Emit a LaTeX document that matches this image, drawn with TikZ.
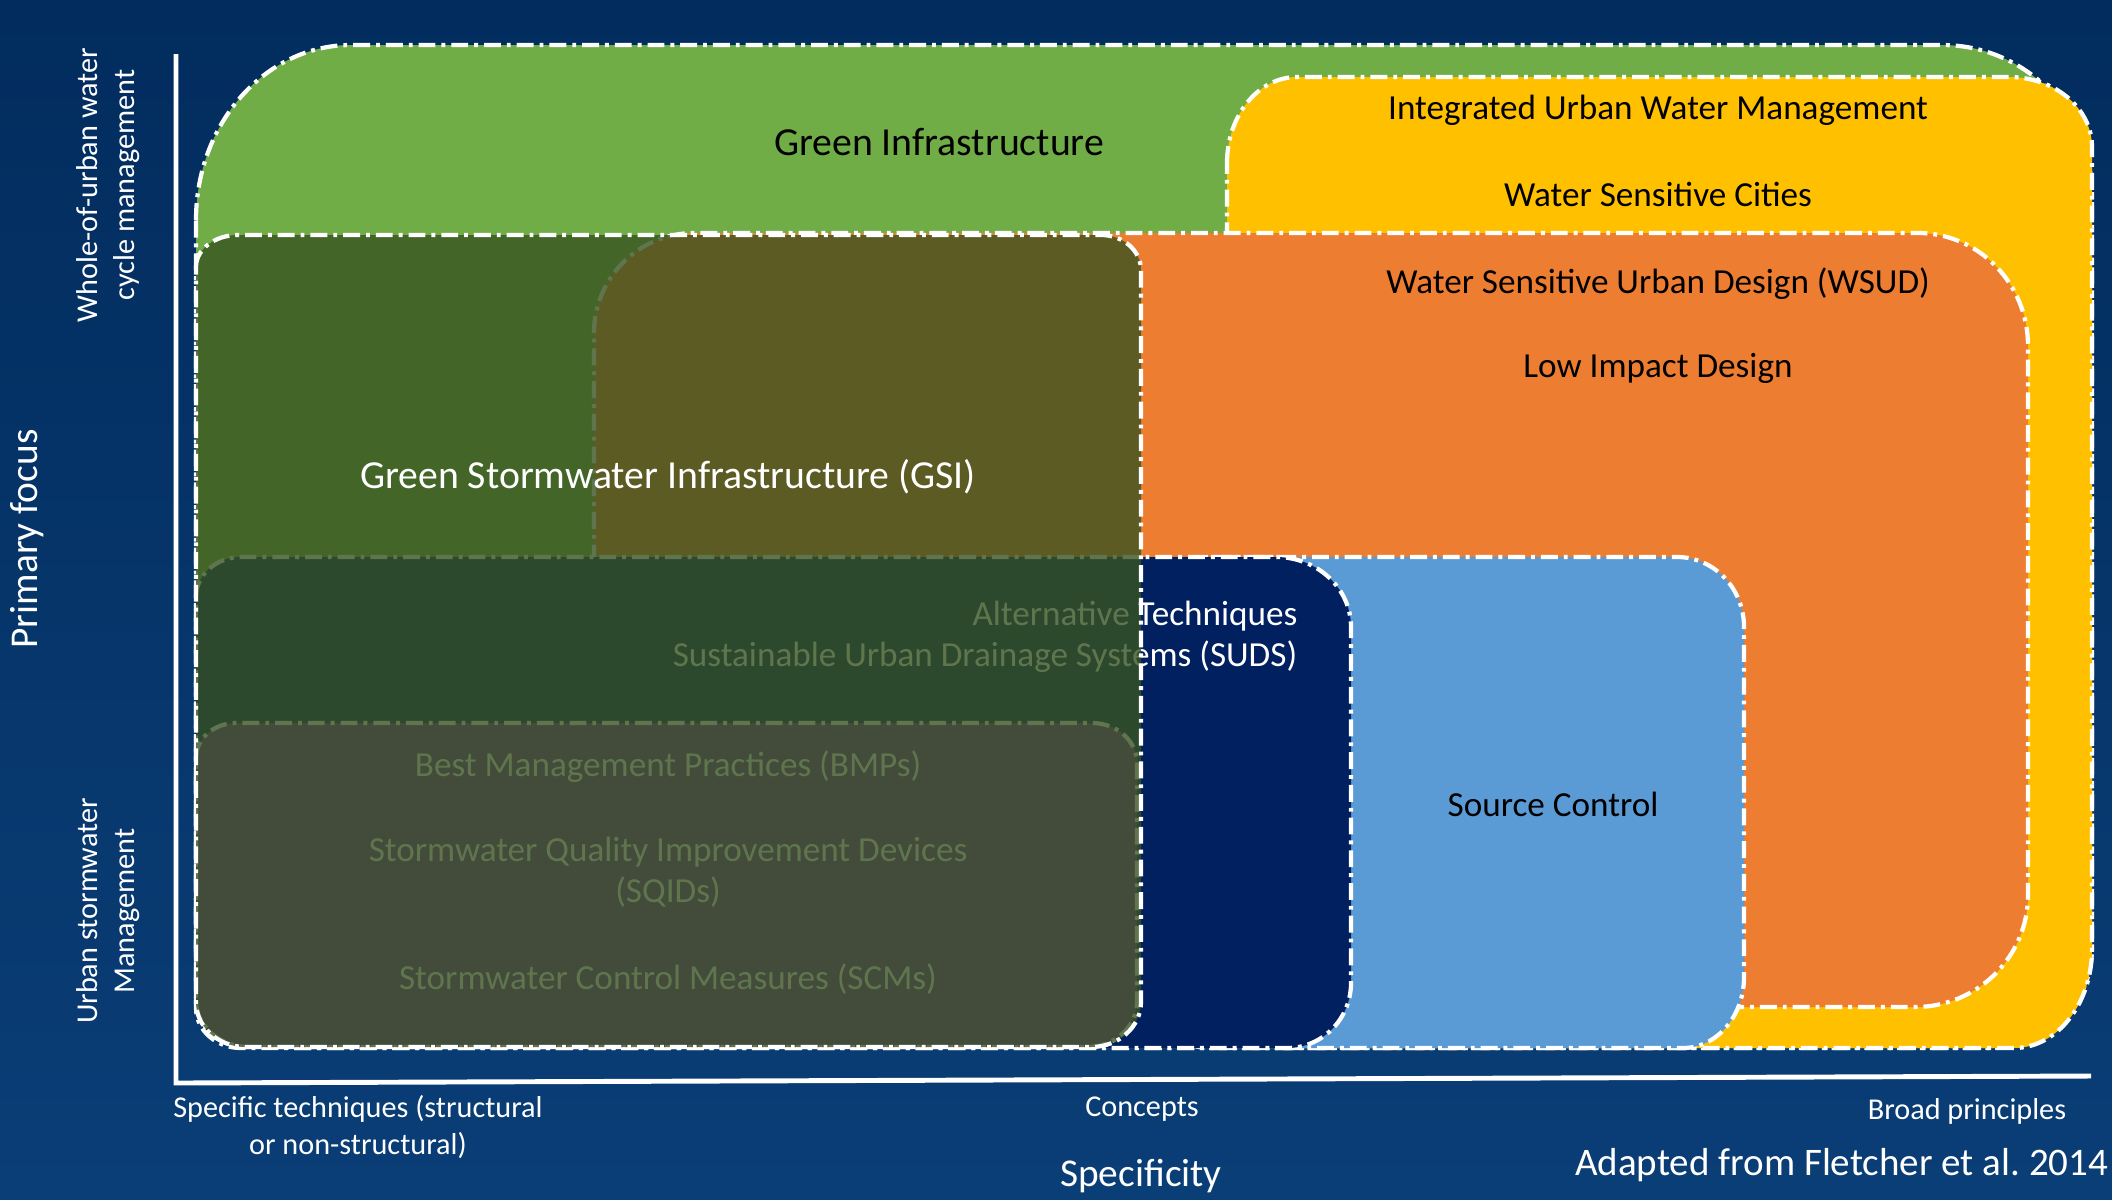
\documentclass[tikz,border=0pt]{standalone}
\usepackage{fontspec}
\setmainfont{Carlito}

\definecolor{bgtop}{RGB}{2,44,94}
\definecolor{bgbottom}{RGB}{10,62,118}
\definecolor{gigreen}{RGB}{112,173,71}
\definecolor{iuwmyellow}{RGB}{255,192,0}
\definecolor{wsudorange}{RGB}{237,125,49}
\definecolor{sudsnavy}{RGB}{0,32,96}
\definecolor{scblue}{RGB}{91,155,213}
\definecolor{bmppurple}{RGB}{112,48,160}
\definecolor{gsishade}{RGB}{56,83,33}

\tikzset{
	zone/.style={draw=white, line width=1.2pt, dash pattern=on 4.8pt off 1.7pt on 1.1pt off 1.7pt},
	lbl/.style={font=\fontsize{10}{11.8}\selectfont, align=center},
	biglbl/.style={font=\fontsize{11.3}{13}\selectfont},
	axislbl/.style={text=white, font=\fontsize{8.6}{10.6}\selectfont, align=center},
	axistitle/.style={text=white, font=\fontsize{11.2}{13}\selectfont},
}

\begin{document}
\begin{tikzpicture}[x=0.01cm, y=-0.01cm]
		\shade[top color=bgtop, bottom color=bgbottom] (0,0) rectangle (2112,1199);
		\useasboundingbox (0,0) rectangle (2112,1199);
		
		% axes
		\coordinate (ytop) at (176,54);
		\coordinate (origin) at (176,1083);
		\coordinate (xend) at (2091,1076);
		\draw[white, line width=1.4pt] (ytop) -- (origin) -- (xend);
		
		% zones, back to front
		\draw[zone, fill=gigreen] (196,220) arc(180:270:155 and 175) -- (1942,45) arc(270:360:150 and 150) -- (2092,948) arc(0:90:100 and 100) -- (296,1048) arc(90:180:100 and 100) -- cycle;
		\draw[zone, fill=iuwmyellow] (1227,163) arc(180:270:70 and 86) -- (2009,77) arc(270:360:83 and 70) -- (2092,949) arc(0:90:78 and 99) -- (1287,1048) arc(90:180:60 and 60) -- cycle;
		\draw[zone, fill=wsudorange] (594,333) arc(180:270:100 and 100) -- (1918,233) arc(270:360:110 and 113) -- (2028,895) arc(0:90:113 and 112) -- (654,1007) arc(90:180:60 and 60) -- cycle;
		\draw[zone, fill=scblue] (1150,617) arc(180:270:60 and 60) -- (1677,557) arc(270:360:67 and 70) -- (1744,977) arc(0:90:61 and 71) -- (1210,1048) arc(90:180:60 and 60) -- cycle;
		\draw[zone, fill=sudsnavy] (196,597) arc(180:270:45 and 40) -- (1276,557) arc(270:360:75 and 70) -- (1351,983) arc(0:90:64 and 65) -- (241,1048) arc(90:180:45 and 40) -- cycle;
		\node[lbl, text=white, align=right, anchor=east, inner sep=0pt] (suds) at (1298,637) {Alternative Techniques\\Sustainable Urban Drainage Systems (SUDS)};
		\draw[zone, fill=bmppurple] (196,758) arc(180:270:40 and 35) -- (1092,723) arc(270:360:45 and 40) -- (1137,1002) arc(0:90:50 and 45) -- (249,1047) arc(90:180:53 and 47) -- cycle;
		\node[lbl, text=white] (bmp) at (668,767) {Best Management Practices (BMPs)};
		\node[lbl, text=white] (sqid) at (668,872) {Stormwater Quality Improvement Devices\\(SQIDs)};
		\node[lbl, text=white] (scm) at (668,979) {Stormwater Control Measures (SCMs)};
		% see-through GSI layer on top
		\draw[zone, fill=gsishade, fill opacity=0.8] (196,267) arc(180:270:42 and 32) -- (1101,235) arc(270:360:40 and 35) -- (1141,1002) arc(0:90:50 and 45) -- (246,1047) arc(90:180:50 and 45) -- cycle;
		
		\node[lbl, biglbl] (gi) at (939,142) {Green Infrastructure};
		\node[lbl] (iuwm) at (1658,110) {Integrated Urban Water Management};
		\node[lbl] (wsc) at (1658,194) {Water Sensitive Cities};
		\node[lbl] (wsud) at (1658,284) {Water Sensitive Urban Design (WSUD)};
		\node[lbl] (lid) at (1658,368) {Low Impact Design};
		\node[lbl, biglbl, text=white] (gsi) at (668,477) {Green Stormwater Infrastructure (GSI)};
		\node[lbl] (sc) at (1553,804) {Source Control};
		
		% axis labels
		\node[axistitle, rotate=90] (focus) at (27,539) {Primary focus};
		\node[axislbl, rotate=90] (whole) at (108,185) {Whole-of-urban water\\cycle management};
		\node[axislbl, rotate=90] (storm) at (108,911) {Urban stormwater\\Management};
		\node[axislbl] (specific) at (358,1127) {Specific techniques (structural\\or non-structural)};
		\node[axislbl] (concepts) at (1142,1109) {Concepts};
		\node[axislbl] (broad) at (1967,1111) {Broad principles};
		\node[axistitle] (specificity) at (1141,1176) {Specificity};
		\node[axistitle, font=\fontsize{11.1}{13}\selectfont, anchor=east, inner sep=0pt] (adapted) at (2109,1165) {Adapted from Fletcher et al.\ 2014};
	\end{tikzpicture}
\end{document}
